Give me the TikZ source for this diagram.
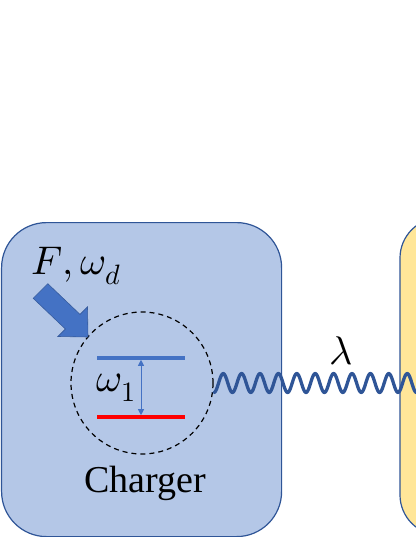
\documentclass[tikz,border=0pt]{standalone}
\usepackage{fontspec}
\usepackage{unicode-math}
\IfFontExistsTF{LiberationSerif-Regular.ttf}
  {\newfontfamily\labelfont{LiberationSerif-Regular.ttf}}
  {\newfontfamily\labelfont{Latin Modern Roman}}
\setmathfont{Latin Modern Math}
\usetikzlibrary{arrows.meta}
\definecolor{boxblue}{HTML}{B4C7E7}
\definecolor{edgeblue}{HTML}{2F5597}
\definecolor{midblue}{HTML}{4472C4}
\definecolor{boxyellow}{HTML}{FFE699}
\definecolor{wavecol}{HTML}{2F5597}
\begin{document}
\begin{tikzpicture}[x=1pt,y=-1pt,
  panel/.style={draw=edgeblue, line width=1.2pt},
  lvl/.style={line width=3.2pt},
  bigtxt/.style={inner sep=0pt, font=\fontsize{40}{44}\selectfont}]
\useasboundingbox (0,0) rectangle (415,537);
% yellow box (right)
\draw[panel, fill=boxyellow, rounded corners=40pt] (400,218) rectangle (620,535);
% blue box (charger)
\node[panel, fill=boxblue, rounded corners=45pt, minimum width=280pt, minimum height=314pt,
  anchor=north west, inner sep=0pt] (chargerbox) at (1,222) {};
% dashed circle
\node[draw=black, dashed, dash pattern=on 5pt off 4pt, line width=1.2pt, circle,
  minimum size=142pt, inner sep=0pt] (circ) at (142,383) {};
% levels
\coordinate (upL) at (97,358); \coordinate (upR) at (185,358);
\coordinate (loL) at (97,417); \coordinate (loR) at (185,417);
\draw[lvl, midblue] (upL) -- (upR);
\draw[lvl, red] (loL) -- (loR);
\coordinate (aTop) at (141,359.8); \coordinate (aBot) at (141,415.2);
\draw[midblue, line width=0.8pt, {Triangle[length=6pt,width=6pt]}-{Triangle[length=6pt,width=6pt]}] (aTop) -- (aBot);
\node[bigtxt] (w1) at (116,388) {$\omega_1$};
% driving arrow
\draw[fill=midblue, draw=midblue!80!black, line width=0.6pt]
  (47.8,283.7) -- (80,314.4) -- (87.5,306.9) -- (88,337) -- (57.9,336.5) -- (65.4,329) -- (33.2,298.3) -- cycle;
\node[bigtxt] (drive) at (76,266) {$F,\omega_d$};
% wave coupling
\coordinate (wstart) at (circ.east);
\draw[wavecol, line width=3.3pt, line cap=round]
  plot[domain=214:420, samples=600, smooth] (\x, {383+9.4*cos(19.565*(\x-214))});
\node[bigtxt] (lam) at (341,351) {$\lambda$};
\node[inner sep=0pt, font=\labelfont\fontsize{38}{42}\selectfont, anchor=base] (charger) at (145.5,492) {Charger};
\end{tikzpicture}
\end{document}
